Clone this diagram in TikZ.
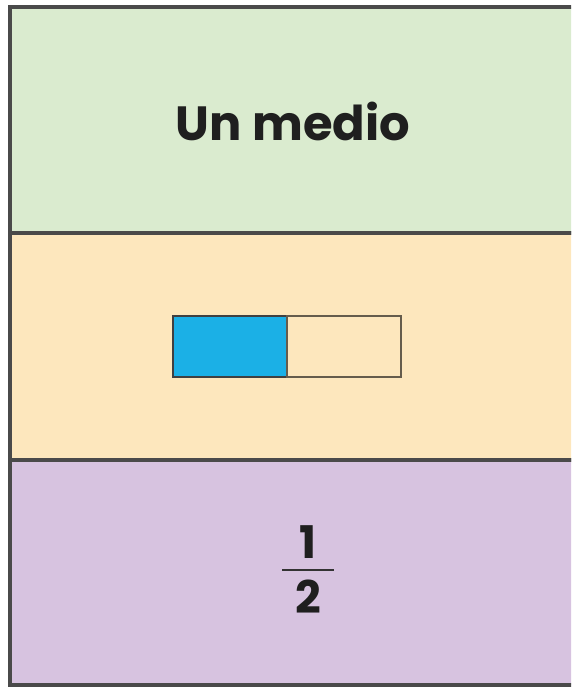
\documentclass[tikz,border=0pt]{standalone}
\usepackage{fontspec}
\setmainfont{Poppins}
\usepackage{xcolor}
\definecolor{medioGreen}{HTML}{DAEBCF}
\definecolor{medioOrange}{HTML}{FDE7BD}
\definecolor{medioPurple}{HTML}{D7C3E0}
\definecolor{medioBlue}{HTML}{1BB0E6}
\definecolor{medioLine}{HTML}{4A4A4A}
\usetikzlibrary{positioning}

\begin{document}
\begin{tikzpicture}[x=1pt, y=-1pt,
    panel/.style={draw=medioLine, line width=3.2pt},
    txt/.style={font=\fontsize{48}{52}\selectfont\bfseries, text=black!88, inner sep=0pt}]
        \useasboundingbox (0, 0) rectangle (571, 687);
        \clip (0, 0) rectangle (571, 687);

        \fill[white] (0, 0) rectangle (571, 687);
        \draw[panel, fill=medioGreen] (10, 7) rectangle (585, 233);
        \draw[panel, fill=medioOrange] (10, 233) rectangle (585, 460);
        \draw[panel, fill=medioPurple] (10, 460) rectangle (585, 685);

        \node[txt] (title) at (293, 121) {Un medio};

        \draw[line width=2.6pt, draw=black!75, fill=medioBlue] (173, 316) rectangle (287, 377);
        \draw[line width=2.6pt, draw=black!60!medioOrange] (287, 316) rectangle (401, 377);

        \node[txt, font=\fontsize{45}{48}\selectfont\bfseries] (num) at (308, 542) {1};
        \node[txt, font=\fontsize{45}{48}\selectfont\bfseries] (den) at (308, 597) {2};
        \coordinate (barL) at (282, 570);
        \coordinate (barR) at (334, 570);
        \draw[line width=2.6pt, black!80] (barL) -- (barR);
    \end{tikzpicture}
\end{document}
